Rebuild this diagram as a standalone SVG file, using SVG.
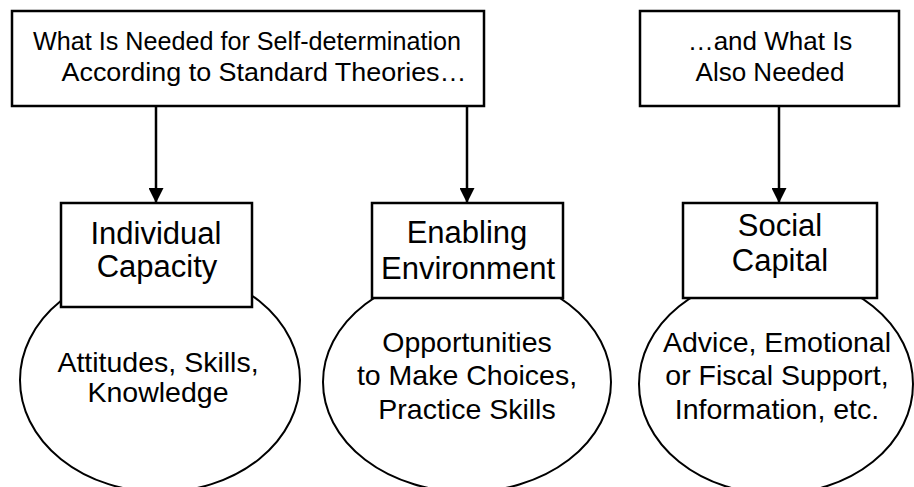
<svg xmlns="http://www.w3.org/2000/svg" width="914" height="487" viewBox="0 0 914 487">
<defs>
<marker id="ah" markerWidth="15" markerHeight="15" viewBox="0 0 15 15" refX="15" refY="7.5" orient="auto" markerUnits="userSpaceOnUse">
<path d="M0,0 L15,7.5 L0,15 Z" fill="#000"/>
</marker>
</defs>
<style>
.box{fill:#fff;stroke:#000;stroke-width:2.5}
.ell{fill:#fff;stroke:#000;stroke-width:2}
.edge{stroke:#000;stroke-width:2.5;fill:none}
text{font-family:"Liberation Sans",Arial,sans-serif;fill:#000;text-anchor:middle}
.t{font-size:26px}
.n{font-size:31px}
.e{font-size:28.5px}
</style>
<rect width="914" height="487" fill="#fff"/>
<g id="ellipse-individual"><ellipse class="ell" cx="160" cy="380" rx="140" ry="112"/></g>
<g id="ellipse-enabling"><ellipse class="ell" cx="467" cy="382" rx="144" ry="110"/></g>
<g id="ellipse-social"><ellipse class="ell" cx="776" cy="384" rx="137" ry="110"/></g>
<g id="connectors">
<line class="edge" x1="156" y1="106" x2="156" y2="203" marker-end="url(#ah)"/>
<line class="edge" x1="467" y1="106" x2="467" y2="203" marker-end="url(#ah)"/>
<line class="edge" x1="779" y1="106" x2="779" y2="203" marker-end="url(#ah)"/>
</g>
<g id="top-standard">
<rect class="box" x="12" y="11" width="472" height="95"/>
<text class="t" x="247" y="50" textLength="428" lengthAdjust="spacingAndGlyphs">What Is Needed for Self-determination</text>
<text class="t" x="264" y="81" textLength="405" lengthAdjust="spacingAndGlyphs">According to Standard Theories…</text>
</g>
<g id="top-also">
<rect class="box" x="640" y="11" width="259" height="95"/>
<text class="t" x="770" y="50">…and What Is</text>
<text class="t" x="770" y="81">Also Needed</text>
</g>
<g id="node-individual">
<rect class="box" x="61" y="203" width="191" height="104"/>
<text class="n" x="156" y="244">Individual</text>
<text class="n" x="157" y="277">Capacity</text>
<text class="e" x="158" y="372">Attitudes, Skills,</text>
<text class="e" x="158" y="402">Knowledge</text>
</g>
<g id="node-enabling">
<rect class="box" x="372" y="203" width="191" height="95"/>
<text class="n" x="467" y="243">Enabling</text>
<text class="n" x="468" y="279">Environment</text>
<text class="e" x="467" y="352">Opportunities</text>
<text class="e" x="467" y="385">to Make Choices,</text>
<text class="e" x="467" y="419">Practice Skills</text>
</g>
<g id="node-social">
<rect class="box" x="683" y="203" width="194" height="95"/>
<text class="n" x="780" y="236">Social</text>
<text class="n" x="780" y="271">Capital</text>
<text class="e" x="777" y="352">Advice, Emotional</text>
<text class="e" x="777" y="385">or Fiscal Support,</text>
<text class="e" x="777" y="419">Information, etc.</text>
</g>
</svg>
